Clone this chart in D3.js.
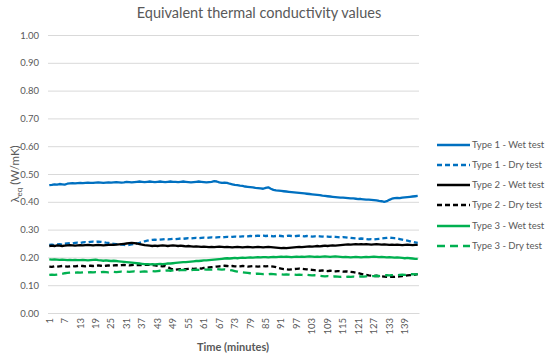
<!DOCTYPE html>
<html><head><meta charset="utf-8">
<script src="https://cdn.jsdelivr.net/npm/d3@7"></script>
<style>body{margin:0;background:#fff;}svg{display:block;font-family:Lato,"Open Sans",sans-serif;}</style>
</head><body><svg id="c" width="550" height="357"></svg>
<script>
const title = "Equivalent thermal conductivity values";
const xTitle = "Time (minutes)";
const minutes = d3.range(1, 145);
const yTicks = [0,0.1,0.2,0.3,0.4,0.5,0.6,0.7,0.8,0.9,1.0];
const xTickLabels = minutes.filter(m => (m - 1) % 6 === 0);
const seriesNames = ["Type 1 - Wet test","Type 1 - Dry test","Type 2 - Wet test","Type 2 - Dry test","Type 3 - Wet test","Type 3 - Dry test"];
const type1Wet = [0.460,0.461,0.463,0.462,0.464,0.463,0.462,0.465,0.466,0.467,0.466,0.467,
0.468,0.467,0.468,0.469,0.468,0.468,0.469,0.470,0.469,0.468,0.469,0.470,
0.469,0.470,0.471,0.470,0.469,0.470,0.472,0.471,0.470,0.471,0.472,0.473,
0.472,0.471,0.472,0.473,0.472,0.471,0.472,0.473,0.472,0.471,0.472,0.473,
0.472,0.472,0.471,0.472,0.473,0.472,0.471,0.470,0.471,0.472,0.473,0.472,
0.471,0.470,0.471,0.472,0.474,0.473,0.470,0.468,0.469,0.468,0.465,0.463,
0.461,0.460,0.458,0.457,0.455,0.454,0.453,0.452,0.450,0.449,0.448,0.447,
0.450,0.452,0.447,0.443,0.441,0.440,0.439,0.438,0.437,0.436,0.435,0.434,
0.433,0.432,0.431,0.430,0.429,0.428,0.427,0.426,0.425,0.424,0.422,0.421,
0.420,0.419,0.418,0.417,0.416,0.415,0.415,0.414,0.413,0.412,0.412,0.411,
0.410,0.410,0.409,0.408,0.408,0.407,0.406,0.405,0.403,0.402,0.400,0.402,
0.407,0.411,0.413,0.414,0.413,0.415,0.416,0.417,0.418,0.419,0.420,0.421];
const type1Dry = [0.245,0.246,0.244,0.247,0.248,0.246,0.249,0.250,0.251,0.250,0.252,0.253,
0.252,0.254,0.255,0.254,0.256,0.257,0.256,0.257,0.256,0.255,0.253,0.252,
0.250,0.249,0.248,0.247,0.246,0.245,0.244,0.245,0.247,0.249,0.250,0.252,
0.255,0.258,0.260,0.262,0.263,0.264,0.263,0.264,0.265,0.266,0.265,0.266,
0.267,0.266,0.267,0.268,0.267,0.268,0.269,0.268,0.269,0.270,0.269,0.270,
0.271,0.270,0.271,0.272,0.271,0.272,0.273,0.272,0.273,0.274,0.273,0.274,
0.275,0.274,0.275,0.276,0.275,0.276,0.277,0.276,0.277,0.278,0.277,0.278,
0.277,0.278,0.277,0.276,0.277,0.278,0.277,0.276,0.277,0.278,0.277,0.276,
0.277,0.278,0.277,0.276,0.277,0.276,0.275,0.276,0.277,0.276,0.275,0.276,
0.275,0.274,0.275,0.274,0.273,0.272,0.273,0.272,0.271,0.270,0.269,0.268,
0.267,0.268,0.267,0.266,0.265,0.266,0.265,0.266,0.267,0.268,0.269,0.270,
0.271,0.270,0.269,0.268,0.266,0.264,0.262,0.260,0.258,0.256,0.254,0.252];
const type2Wet = [0.241,0.242,0.241,0.243,0.242,0.241,0.242,0.243,0.244,0.243,0.242,0.243,
0.244,0.243,0.244,0.245,0.244,0.243,0.244,0.245,0.244,0.243,0.244,0.245,
0.246,0.245,0.246,0.247,0.248,0.249,0.250,0.251,0.252,0.251,0.250,0.248,
0.246,0.244,0.243,0.242,0.241,0.242,0.241,0.242,0.243,0.242,0.241,0.242,
0.243,0.242,0.241,0.242,0.241,0.240,0.241,0.240,0.239,0.240,0.239,0.238,
0.239,0.238,0.237,0.238,0.237,0.238,0.239,0.238,0.237,0.238,0.237,0.236,
0.237,0.238,0.237,0.236,0.237,0.238,0.237,0.236,0.237,0.238,0.237,0.236,
0.237,0.238,0.237,0.236,0.235,0.234,0.233,0.234,0.233,0.234,0.235,0.236,
0.237,0.238,0.237,0.238,0.239,0.240,0.239,0.240,0.241,0.240,0.241,0.242,
0.241,0.242,0.243,0.242,0.243,0.244,0.245,0.246,0.247,0.246,0.247,0.248,
0.247,0.248,0.247,0.248,0.247,0.246,0.247,0.248,0.247,0.246,0.247,0.246,
0.245,0.246,0.245,0.246,0.245,0.244,0.245,0.246,0.245,0.244,0.245,0.245];
const type2Dry = [0.167,0.166,0.168,0.167,0.168,0.169,0.168,0.167,0.168,0.169,0.168,0.169,
0.170,0.169,0.168,0.169,0.170,0.169,0.170,0.171,0.170,0.169,0.170,0.171,
0.170,0.171,0.172,0.171,0.172,0.173,0.172,0.171,0.172,0.173,0.172,0.173,
0.172,0.173,0.174,0.173,0.172,0.171,0.170,0.169,0.168,0.169,0.165,0.160,
0.157,0.156,0.157,0.158,0.157,0.158,0.159,0.160,0.159,0.160,0.161,0.160,
0.162,0.163,0.164,0.165,0.166,0.167,0.168,0.169,0.170,0.169,0.168,0.169,
0.168,0.167,0.168,0.169,0.168,0.167,0.168,0.169,0.168,0.167,0.168,0.169,
0.168,0.169,0.168,0.167,0.165,0.162,0.160,0.158,0.157,0.156,0.157,0.158,
0.159,0.160,0.159,0.158,0.157,0.156,0.155,0.154,0.153,0.152,0.153,0.152,
0.151,0.152,0.151,0.150,0.151,0.150,0.149,0.150,0.149,0.148,0.147,0.145,
0.143,0.141,0.139,0.137,0.135,0.134,0.133,0.134,0.133,0.132,0.131,0.130,
0.130,0.131,0.130,0.131,0.132,0.133,0.134,0.135,0.136,0.137,0.138,0.140];
const type3Wet = [0.193,0.192,0.193,0.192,0.191,0.192,0.191,0.190,0.191,0.190,0.191,0.190,
0.190,0.191,0.190,0.189,0.190,0.191,0.192,0.190,0.189,0.188,0.189,0.188,
0.187,0.188,0.187,0.186,0.185,0.184,0.183,0.182,0.181,0.180,0.179,0.178,
0.177,0.176,0.176,0.175,0.176,0.175,0.176,0.177,0.176,0.177,0.178,0.178,
0.179,0.180,0.181,0.182,0.183,0.183,0.184,0.185,0.186,0.187,0.187,0.188,
0.189,0.189,0.190,0.191,0.192,0.193,0.194,0.195,0.196,0.197,0.196,0.197,
0.198,0.197,0.198,0.199,0.198,0.199,0.200,0.199,0.200,0.201,0.200,0.201,
0.201,0.200,0.201,0.202,0.201,0.202,0.203,0.202,0.203,0.202,0.201,0.202,
0.203,0.202,0.203,0.202,0.203,0.204,0.203,0.202,0.203,0.202,0.203,0.204,
0.203,0.202,0.203,0.204,0.203,0.202,0.201,0.202,0.201,0.200,0.201,0.202,
0.201,0.200,0.201,0.202,0.201,0.202,0.203,0.202,0.201,0.202,0.201,0.200,
0.201,0.200,0.199,0.200,0.199,0.198,0.197,0.198,0.197,0.196,0.195,0.195];
const type3Dry = [0.137,0.138,0.137,0.138,0.139,0.141,0.143,0.144,0.145,0.146,0.145,0.146,
0.145,0.146,0.147,0.146,0.147,0.146,0.147,0.146,0.147,0.148,0.147,0.146,
0.147,0.148,0.147,0.148,0.149,0.148,0.149,0.148,0.149,0.150,0.149,0.148,
0.149,0.150,0.149,0.150,0.151,0.150,0.151,0.152,0.151,0.152,0.153,0.152,
0.153,0.154,0.153,0.154,0.155,0.154,0.155,0.154,0.155,0.156,0.155,0.156,
0.157,0.156,0.157,0.156,0.157,0.158,0.157,0.156,0.157,0.156,0.155,0.153,
0.151,0.149,0.147,0.146,0.145,0.144,0.143,0.142,0.141,0.142,0.141,0.140,
0.141,0.140,0.141,0.140,0.139,0.140,0.139,0.138,0.139,0.138,0.137,0.138,
0.137,0.138,0.137,0.136,0.137,0.136,0.135,0.136,0.135,0.134,0.133,0.132,
0.133,0.132,0.131,0.132,0.131,0.130,0.131,0.130,0.131,0.130,0.131,0.130,
0.131,0.132,0.131,0.132,0.133,0.132,0.133,0.134,0.133,0.134,0.135,0.136,
0.135,0.136,0.137,0.136,0.137,0.138,0.137,0.138,0.139,0.140,0.139,0.140];

const seriesValues = [type1Wet, type1Dry, type2Wet, type2Dry, type3Wet, type3Dry];
const seriesColors = ["#0070C0","#0070C0","#000000","#000000","#00B050","#00B050"];
const seriesDash = [null,"5,3",null,"5,3",null,"8,5"];

const svg = d3.select("#c");
const L = 48, R = 419, T = 35, B = 313;
const x = d3.scaleBand().domain(minutes).range([L, R]);
const y = d3.scaleLinear().domain([0, 1]).range([B, T]);
const xc = m => x(m) + x.bandwidth() / 2;

svg.append("text").attr("x", 259).attr("y", 18).attr("text-anchor", "middle")
  .attr("font-size", 14.5).attr("fill", "#595959").text(title);

// y axis + gridlines
const ya = svg.append("g").attr("transform", `translate(${L},0)`)
  .call(d3.axisLeft(y).tickValues(yTicks).tickFormat(d3.format(".2f")).tickSize(-(R - L)).tickPadding(9));
ya.select(".domain").remove();
ya.selectAll(".tick line").attr("stroke", "#d9d9d9");
ya.selectAll(".tick text").attr("fill", "#595959").attr("font-size", 9.5).attr("font-family", "Lato,sans-serif");

// x axis
const xa = svg.append("g").attr("transform", `translate(0,${B})`)
  .call(d3.axisBottom(x).tickValues(xTickLabels).tickSize(0));
xa.select(".domain").attr("stroke", "#d9d9d9");
xa.selectAll(".tick text").attr("fill", "#595959").attr("font-size", 9.5).attr("font-family", "Lato,sans-serif")
  .attr("transform", "rotate(-90)").attr("text-anchor", "end").attr("x", -5).attr("y", 0).attr("dy", "0.35em");

// axis titles
svg.append("text").attr("x", 233).attr("y", 351).attr("text-anchor", "middle")
  .attr("font-size", 11).attr("font-weight", "bold").attr("fill", "#595959").text(xTitle);
const yt = svg.append("text").attr("transform", `translate(19,${(T + B) / 2}) rotate(-90)`)
  .attr("text-anchor", "middle").attr("font-size", 11.5).attr("fill", "#595959");
yt.append("tspan").text("λ");
yt.append("tspan").attr("font-size", 8).attr("dy", 3).text("eq");
yt.append("tspan").attr("dy", -3).text(" (W/mK)");

// lines
const line = d3.line().x((d, i) => xc(minutes[i])).y(d => y(d));
seriesValues.forEach((vals, i) => {
  svg.append("path").datum(vals).attr("d", line).attr("fill", "none")
    .attr("stroke", seriesColors[i]).attr("stroke-width", 2.3)
    .attr("stroke-dasharray", seriesDash[i]).attr("stroke-linejoin", "round");
});

// legend
const legY = [145, 165, 185, 205, 226, 246];
seriesNames.forEach((n, i) => {
  svg.append("line").attr("x1", 437).attr("x2", 470).attr("y1", legY[i]).attr("y2", legY[i])
    .attr("stroke", seriesColors[i]).attr("stroke-width", 2.3).attr("stroke-dasharray", seriesDash[i]);
  svg.append("text").attr("x", 472).attr("y", legY[i]).attr("dy", "0.35em")
    .attr("font-size", 9.5).attr("fill", "#595959").text(n);
});
</script></body></html>
